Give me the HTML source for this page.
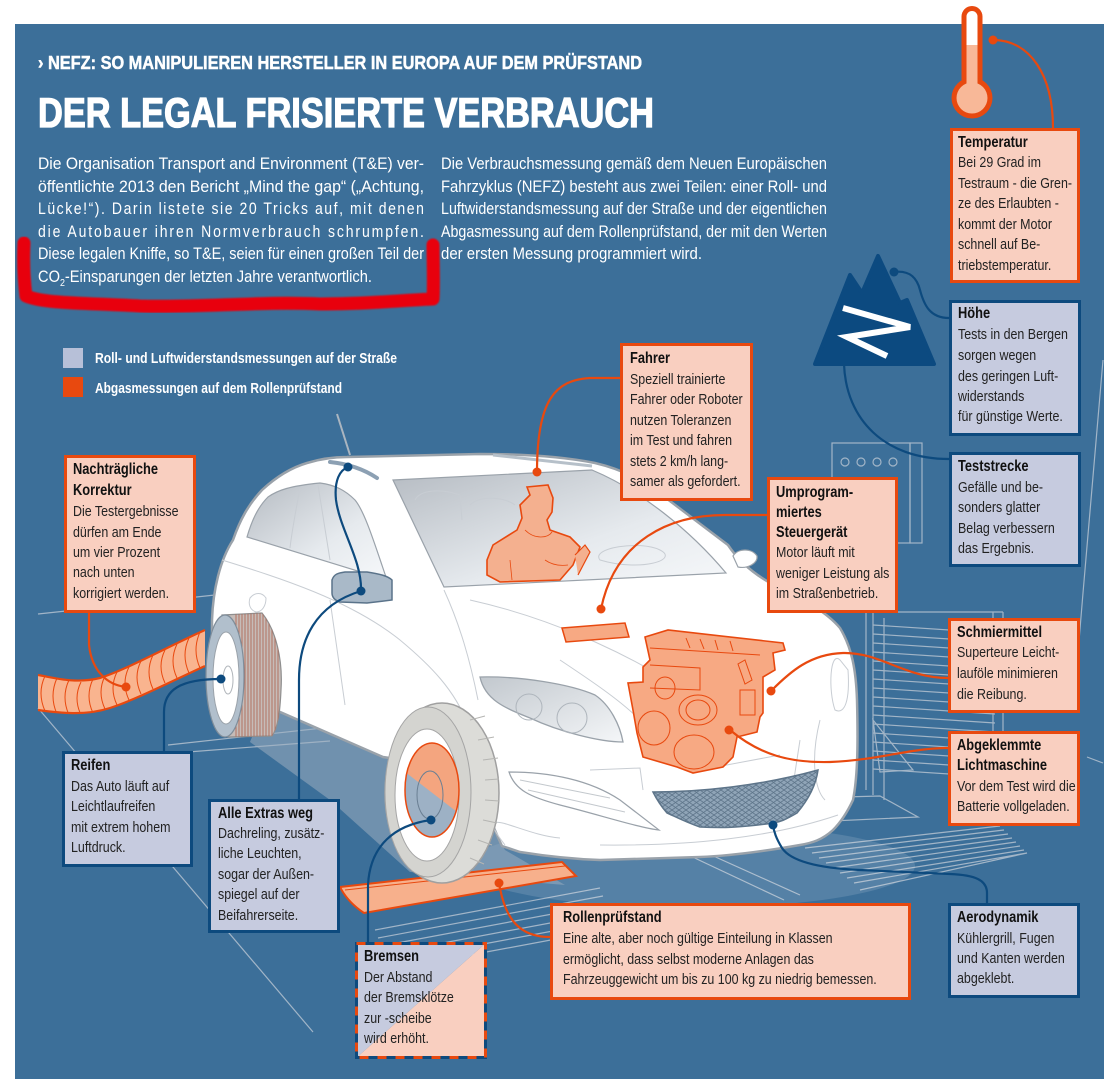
<!DOCTYPE html>
<html><head><meta charset="utf-8">
<style>
html,body{margin:0;padding:0;background:#fff;}
svg{display:block;}
text{font-family:"Liberation Sans",sans-serif;}
.t{font-weight:bold;font-size:15.5px;fill:#111;}
.b{font-size:15px;fill:#222;}
.p{font-size:16.5px;fill:#fff;}
.gl{stroke:#b4c2d0;stroke-width:1.2;fill:none;opacity:.85}
.cl{stroke:#c8cdd3;stroke-width:1;fill:none}
.oc{stroke:#e8490f;stroke-width:2.2;fill:none}
.bc{stroke:#0d4a7e;stroke-width:2.2;fill:none}
</style></head><body>
<svg width="1117" height="1082" viewBox="0 0 1117 1082" xmlns="http://www.w3.org/2000/svg">
<defs>
 <linearGradient id="win" x1="0" y1="0" x2="1" y2="1">
  <stop offset="0" stop-color="#b5bbc2"/><stop offset="0.6" stop-color="#e6eaee"/><stop offset="1" stop-color="#f6f8fa"/>
 </linearGradient>
 <linearGradient id="hl" x1="0" y1="0" x2="1" y2="1">
  <stop offset="0" stop-color="#c2c8ce"/><stop offset="1" stop-color="#f4f6f8"/>
 </linearGradient>
 <pattern id="mesh" width="7" height="5" patternUnits="userSpaceOnUse">
  <path d="M0,0 L7,5 M7,0 L0,5" stroke="#5d7489" stroke-width="0.8"/>
 </pattern>
 <clipPath id="tread"><path d="M222,615 L262,613 C276,630 283,660 281,690 C280,712 278,728 272,736 L228,737 Z"/></clipPath>
 <clipPath id="disc"><ellipse cx="432" cy="790" rx="27" ry="47"/></clipPath>
 <clipPath id="hose"><path d="M38,675 C55,678 75,684 100,678 C130,668 165,648 205,630 L205,666 C170,682 135,700 110,708 C85,716 60,713 38,710 Z"/></clipPath>
 <filter id="blur"><feGaussianBlur stdDeviation="0.9"/></filter>
</defs>

<!-- background panel -->
<rect x="15" y="24" width="1089" height="1055" fill="#3c6f99"/>

<!-- ground / background lines -->
<g class="gl">
 <path d="M38,614 L215,595"/>
 <path d="M38,708 L313,1032"/>
 <path d="M168,745 L323,728 M175,753 L330,741"/>
 <path d="M375,930 L600,888 M378,938 L603,896 M381,946 L606,904 M384,954 L609,912 M387,962 L612,920 M390,970 L615,928"/>
 <path d="M684,853 L784,900 M700,850 L800,895"/>
 <path d="M807,798 L880,796 L918,817 L832,821 Z"/>
 <path d="M805,848 L1000,826 M812,853 L1004,830 M819,858 L1008,834 M826,863 L1012,838 M833,868 L1016,842 M840,873 L1020,846 M847,878 L1024,850 M854,883 L1027,853 M860,890 L1027,853"/>
 <path d="M866,612 L866,790 M873,612 L873,795 M884,618 L884,800 M993,612 L993,760 M1003,612 L1003,765 M866,612 L1003,612"/>
 <path d="M873,625 L995,633 M873,634 L995,642 M873,643 L995,651 M873,652 L995,660 M873,661 L995,669 M873,670 L995,678 M873,679 L995,687 M873,688 L995,696 M873,697 L995,705 M873,706 L995,714 M873,715 L995,723 M873,724 L995,732 M873,733 L995,741 M873,742 L995,750 M873,751 L995,759 M873,760 L995,768 M873,769 L995,777"/>
 <path d="M873,720 L913,770 L880,772 Z"/>
 <path d="M1103,360 L1083,593 L1073,713 M1087,757 L1103,763"/>
 <rect x="832" y="443" width="78" height="100"/>
 <rect x="910" y="443" width="12" height="100"/>
 <circle cx="845" cy="462" r="4"/><circle cx="861" cy="462" r="4"/><circle cx="877" cy="462" r="4"/><circle cx="893" cy="462" r="4"/>
</g>

<!-- shadows -->
<ellipse cx="690" cy="866" rx="225" ry="42" fill="#fff" opacity="0.13"/>
<path d="M265,705 L470,790 L505,850 L565,885 L410,872 L330,800 L250,742 Z" fill="#9aadbf" opacity="0.55"/>

<!-- hose -->
<path d="M38,675 C55,678 75,684 100,678 C130,668 165,648 205,630 L205,666 C170,682 135,700 110,708 C85,716 60,713 38,710 Z" fill="#f9b48f"/>
<g clip-path="url(#hose)" stroke="#e8490f" stroke-width="1" fill="none">
 <path d="M45,676 Q37,693 45,711 M57,678 Q49,696 57,714 M69,680 Q61,697 69,715 M81,682 Q73,698 81,715 M93,679 Q85,696 93,713 M105,676 Q97,692 105,709 M117,672 Q109,688 117,705 M129,667 Q121,683 129,700 M141,661 Q133,677 141,694 M153,655 Q145,672 153,689 M165,650 Q157,666 165,683 M177,644 Q169,661 177,678 M189,638 Q181,655 189,673 M200,632 Q192,650 200,668"/>
</g>
<path d="M38,675 C55,678 75,684 100,678 C130,668 165,648 205,630 M205,666 C170,682 135,700 110,708 C85,716 60,713 38,710" stroke="#e8490f" stroke-width="2.2" fill="none"/>

<!-- car body -->
<path d="M212,620 C213,590 220,560 233,540 C240,520 248,505 262,490 C275,478 290,468 307,463 C320,459 333,457 347,457 L480,454 C530,454 565,457 595,463 C625,470 645,482 662,495 L728,545 C738,560 752,573 772,584 C800,598 825,610 840,628 C852,648 856,670 857,700 C858,740 858,775 853,800 C846,815 838,825 833,830 C822,840 812,843 800,845 C760,852 730,856 700,857 L600,860 C570,859 545,856 520,852 L502,846 C492,825 482,798 470,770 L383,757 L280,712 L212,700 Z" fill="#fff" stroke="#9aa2aa" stroke-width="2.5"/>
<!-- windows -->
<path d="M247,537 C252,520 258,507 268,497 C278,490 290,486 320,483 C335,485 345,490 355,500 C365,512 375,545 387,580 Z" fill="url(#win)" stroke="#9aa2aa" stroke-width="1.2"/>
<path d="M393,480 L592,470 C640,490 690,530 726,573 C640,578 540,582 444,587 Z" fill="url(#win)" stroke="#9aa2aa" stroke-width="1.2"/>
<!-- interior / body lines -->
<g class="cl">
 <path d="M318,485 L330,560 M300,488 C296,510 292,530 290,548"/>
 <path d="M415,500 C420,490 440,488 460,495 L462,520 M470,505 C480,495 505,497 515,505"/>
 <path d="M600,560 C590,548 640,540 660,550 C680,560 640,572 600,560 Z"/>
 <path d="M222,560 C280,578 350,600 400,640 C430,665 455,690 468,725"/>
 <path d="M444,590 C460,625 470,660 478,700"/>
 <path d="M330,600 L345,705"/>
 <path d="M250,598 C255,592 262,592 266,598 C266,606 262,612 256,612 C250,610 248,604 250,598 Z"/>
 <path d="M470,600 C560,620 640,660 700,700 M560,660 C590,680 620,700 640,720"/>
 <path d="M600,845 C690,846 770,838 838,815 M505,845 C470,800 520,835 560,838"/>
 <path d="M840,660 C830,650 828,690 835,710 C845,715 850,700 848,670 Z"/>
 <path d="M820,720 C810,760 815,790 825,800 M800,740 L790,805"/>
 <path d="M590,770 L640,768 L643,790 M700,770 L780,755"/>
</g>
<!-- right mirror -->
<path d="M733,556 C738,548 752,548 757,556 C758,563 748,569 738,567 Z" fill="#fff" stroke="#9aa2aa" stroke-width="1.2"/>
<!-- roof rails, antenna -->
<path d="M493,455 L592,466" stroke="#b6c0c9" stroke-width="3" fill="none"/>
<path d="M330,462 C350,464 365,470 377,478" stroke="#8ca0b3" stroke-width="4" fill="none" stroke-linecap="round"/>
<path d="M337,414 L350,455" stroke="#aab5c0" stroke-width="2"/>
<!-- left mirror -->
<path d="M332,580 C334,574 338,573 345,572 L367,572 C380,574 388,576 392,580 L392,600 L367,603 L340,602 C334,600 332,597 332,593 Z" fill="#a9b9c8" stroke="#5a738a" stroke-width="1.5"/>
<!-- headlight -->
<path d="M480,677 C520,676 570,684 595,695 C610,705 620,725 623,742 C600,742 560,732 530,718 C505,708 485,700 480,677 Z" fill="url(#hl)" stroke="#9aa2aa" stroke-width="1.3"/>
<circle cx="529" cy="707" r="13" fill="none" stroke="#aeb5bc"/>
<circle cx="572" cy="718" r="15" fill="none" stroke="#aeb5bc"/>
<!-- DRL -->
<path d="M509,772 C550,772 590,780 620,800 L659,830 C640,828 600,815 560,805 C530,797 515,790 509,772 Z" fill="#fff" stroke="#9aa2aa" stroke-width="1.2"/>
<path d="M520,780 L610,798 M528,790 L625,812" stroke="#c3c8cd" stroke-width="1"/>
<!-- grille -->
<path d="M653,792 C700,792 760,786 818,770 C816,785 808,800 797,813 C785,820 780,822 773,823 C740,828 720,828 700,827 C685,822 672,815 667,813 C660,805 656,798 653,792 Z" fill="#8fa4b7"/>
<path d="M653,792 C700,792 760,786 818,770 C816,785 808,800 797,813 C785,820 780,822 773,823 C740,828 720,828 700,827 C685,822 672,815 667,813 C660,805 656,798 653,792 Z" fill="url(#mesh)" stroke="#5d7489" stroke-width="1.5"/>

<!-- rear wheel -->
<path d="M222,615 L262,613 C276,630 283,660 281,690 C280,712 278,728 272,736 L228,737 Z" fill="#c6bcb8" stroke="#8f8f8f" stroke-width="1.2"/>
<g clip-path="url(#tread)" stroke="#b06a58" stroke-width="0.9">
 <path d="M236,610 V740 M239,610 V740 M242,610 V740 M245,610 V740 M248,610 V740 M251,610 V740 M254,610 V740 M257,610 V740 M260,610 V740 M263,610 V740 M266,610 V740 M269,610 V740 M272,610 V740 M275,610 V740 M278,610 V740"/>
</g>
<ellipse cx="225" cy="676" rx="19" ry="61" fill="#b1bfcc" stroke="#7f8d9a" stroke-width="1.2"/>
<ellipse cx="226" cy="678" rx="13" ry="46" fill="#fff" stroke="#9aa2aa"/>
<ellipse cx="228" cy="680" rx="5" ry="14" fill="none" stroke="#b0b5ba"/>

<!-- roller -->
<path d="M340,887 L562,862 L576,876 L364,913 C352,905 345,897 340,887 Z" fill="#f7b08c" stroke="#e8490f" stroke-width="2"/>
<path d="M345,890 L565,866" stroke="#e8490f" stroke-width="1"/>

<!-- front wheel -->
<ellipse cx="442" cy="793" rx="57" ry="90" fill="#dcdcd8" stroke="#a0a0a0" stroke-width="1.5"/>
<g stroke="#b5b5b2" stroke-width="1" fill="none">
 <path d="M470,720 L485,716 M478,740 L494,737 M483,760 L498,758 M485,780 L499,779 M485,800 L499,801 M483,820 L497,823 M478,840 L492,845 M470,858 L484,864"/>
</g>
<ellipse cx="428" cy="792" rx="43" ry="85" fill="#d4d4d0" stroke="#a5a5a5"/>
<ellipse cx="427" cy="795" rx="32" ry="66" fill="#fff" stroke="#a5a5a5"/>
<g clip-path="url(#disc)">
 <rect x="400" y="740" width="70" height="100" fill="#9db1c5"/>
 <path d="M400,740 L470,740 L470,822 L400,768 Z" fill="#f4a57f"/>
</g>
<ellipse cx="432" cy="790" rx="27" ry="47" fill="none" stroke="#e8490f" stroke-width="1.5"/>
<ellipse cx="430" cy="795" rx="13" ry="24" fill="none" stroke="#6a7f93" stroke-width="1"/>

<!-- engine -->
<path d="M645,637 L668,630 L783,643 L785,650 L773,653 L775,670 L763,677 L763,713 L760,717 L757,732 L737,737 L733,757 L723,767 L693,773 L677,767 L643,757 L637,733 L633,710 L628,683 L643,682 L643,667 L650,660 Z" fill="#f7a983" stroke="#e8490f" stroke-width="1.6"/>
<g stroke="#e8490f" stroke-width="1" fill="none">
 <path d="M650,648 L760,655 M686,638 L690,648 M700,639 L704,649 M715,640 L718,650 M730,641 L733,651 M650,665 L700,668 L700,690 L650,688"/>
 <ellipse cx="698" cy="710" rx="19" ry="15"/><ellipse cx="698" cy="710" rx="12" ry="10"/>
 <ellipse cx="654" cy="728" rx="16" ry="17"/><ellipse cx="694" cy="752" rx="20" ry="17"/>
 <ellipse cx="665" cy="688" rx="10" ry="11"/>
 <path d="M745,660 L752,680 L745,684 L738,664 Z M740,690 L755,690 L755,715 L740,715 Z"/>
</g>
<!-- ECU -->
<path d="M562,628 L625,623 L629,637 L566,642 Z" fill="#f7a983" stroke="#e8490f" stroke-width="1.5"/>

<!-- driver -->
<path d="M527,487 L548,485 L553,498 L552,512 L547,520 L550,530 L570,537 L580,547 L573,565 L560,580 L500,582 L487,575 L487,560 L493,545 L517,530 L522,518 L520,505 L530,495 Z" fill="#f4b08f" stroke="#e8490f" stroke-width="1.6"/>
<path d="M525,530 C535,540 548,538 552,532 M510,560 L512,580 M545,560 C552,565 560,566 568,565" stroke="#e8490f" stroke-width="0.8" fill="none"/>
<path d="M575,555 L585,545 L590,552 L578,575" fill="#f4b08f" stroke="#e8490f" stroke-width="1.2"/>

<!-- mountain -->
<polygon points="815,364 850,275 862,293 878,256 900,303 907,300 934,364" fill="#0c4a80" stroke="#0c4a80" stroke-width="4" stroke-linejoin="round"/>
<polyline points="843,308 910,327 847,337 887,356" fill="none" stroke="#fff" stroke-width="6"/>

<!-- thermometer -->
<rect x="961.5" y="6" width="21" height="88" rx="10.5" fill="#e8490f"/>
<circle cx="972" cy="98" r="20.5" fill="#e8490f"/>
<rect x="966.5" y="11" width="11" height="80" rx="5.5" fill="#fff"/>
<rect x="966.5" y="45" width="11" height="50" fill="#f8b898"/>
<circle cx="972" cy="98" r="15.5" fill="#f8b898"/>

<!-- connectors -->
<path class="oc" d="M993,40 C1030,40 1053,75 1053,128"/>
<path class="oc" d="M620,378 L590,378 C555,380 537,400 537,472"/>
<path class="oc" d="M767,515 L725,515 C670,515 615,540 601,609"/>
<path class="oc" d="M89,613 L89,645 C92,672 108,685 126,687"/>
<path class="oc" d="M948,678 C905,678 880,652 843,653 C810,654 790,672 772,690"/>
<path class="oc" d="M948,748 C910,748 880,760 830,762 C790,763 760,755 730,730"/>
<path class="oc" d="M550,937 C520,937 505,920 499,883"/>
<path class="bc" d="M949,318 C930,318 924,305 920,290 C917,278 910,270 894,272"/>
<path class="bc" d="M844,364 C846,420 885,459 949,459"/>
<path class="bc" d="M164,751 L164,712 C164,690 180,679 221,679"/>
<path class="bc" d="M299,799 L299,680 C299,640 315,605 361,591"/>
<path class="bc" d="M361,591 C362,560 340,530 336,500 C334,480 340,470 348,467"/>
<path class="bc" d="M368,942 L368,885 C370,845 395,825 431,820"/>
<path class="bc" d="M987,903 L987,893 C987,880 975,875 950,874 L860,870 C815,868 790,860 782,848 C776,838 774,832 773,825"/>
<!-- dots -->
<g fill="#e8490f">
 <circle cx="993" cy="40" r="4.5"/><circle cx="537" cy="472" r="4.5"/><circle cx="601" cy="609" r="4.5"/>
 <circle cx="126" cy="687" r="4.5"/><circle cx="771" cy="691" r="4.5"/><circle cx="729" cy="730" r="4.5"/><circle cx="499" cy="883" r="4.5"/>
</g>
<g fill="#0d4a7e">
 <circle cx="894" cy="272" r="4.5"/><circle cx="221" cy="679" r="4.5"/><circle cx="361" cy="591" r="4.5"/>
 <circle cx="348" cy="467" r="4.5"/><circle cx="431" cy="820" r="4.5"/><circle cx="773" cy="825" r="4.5"/>
</g>

<!-- boxes -->
<g stroke-width="3">
 <rect x="951.5" y="129.5" width="127" height="152" fill="#f9cfc0" stroke="#e8490f"/>
 <rect x="950.5" y="301.5" width="129" height="133" fill="#c6cbdf" stroke="#0d4a7e"/>
 <rect x="950.5" y="453.5" width="129" height="112" fill="#c6cbdf" stroke="#0d4a7e"/>
 <rect x="949.5" y="619.5" width="129" height="92" fill="#f9cfc0" stroke="#e8490f"/>
 <rect x="949.5" y="732.5" width="129" height="92" fill="#f9cfc0" stroke="#e8490f"/>
 <rect x="949.5" y="904.5" width="129" height="92" fill="#c6cbdf" stroke="#0d4a7e"/>
 <rect x="551.5" y="904.5" width="358" height="94" fill="#f9cfc0" stroke="#e8490f"/>
 <rect x="209.5" y="800.5" width="129" height="131" fill="#c6cbdf" stroke="#0d4a7e"/>
 <rect x="63.5" y="752.5" width="128" height="113" fill="#c6cbdf" stroke="#0d4a7e"/>
 <rect x="65.5" y="456.5" width="129" height="155" fill="#f9cfc0" stroke="#e8490f"/>
 <rect x="621.5" y="344.5" width="130" height="155" fill="#f9cfc0" stroke="#e8490f"/>
 <rect x="768.5" y="478.5" width="128" height="133" fill="#f9cfc0" stroke="#e8490f"/>
</g>
<!-- Bremsen box -->
<polygon points="355,942 487,942 355,1059" fill="#c6cbdf"/>
<polygon points="487,942 487,1059 355,1059" fill="#f9cfc0"/>
<rect x="356.5" y="943.5" width="129" height="114" fill="none" stroke="#0d4a7e" stroke-width="3"/>
<rect x="356.5" y="943.5" width="129" height="114" fill="none" stroke="#e8490f" stroke-width="3" stroke-dasharray="9 9"/>

<!-- box text -->
<g transform="translate(958,0) scale(0.83,1)">
 <text class="t" x="0" y="147">Temperatur</text>
 <text class="b" x="0" y="167">Bei 29 Grad im</text>
 <text class="b" x="0" y="188">Testraum - die Gren-</text>
 <text class="b" x="0" y="208">ze des Erlaubten -</text>
 <text class="b" x="0" y="229">kommt der Motor</text>
 <text class="b" x="0" y="249">schnell auf Be-</text>
 <text class="b" x="0" y="270">triebstemperatur.</text>
</g>
<g transform="translate(958,0) scale(0.83,1)">
 <text class="t" x="0" y="318">Höhe</text>
 <text class="b" x="0" y="339">Tests in den Bergen</text>
 <text class="b" x="0" y="360">sorgen wegen</text>
 <text class="b" x="0" y="381">des geringen Luft-</text>
 <text class="b" x="0" y="401">widerstands</text>
 <text class="b" x="0" y="421">für günstige Werte.</text>
</g>
<g transform="translate(958,0) scale(0.83,1)">
 <text class="t" x="0" y="471">Teststrecke</text>
 <text class="b" x="0" y="492">Gefälle und be-</text>
 <text class="b" x="0" y="512">sonders glatter</text>
 <text class="b" x="0" y="533">Belag verbessern</text>
 <text class="b" x="0" y="553">das Ergebnis.</text>
</g>
<g transform="translate(957,0) scale(0.83,1)">
 <text class="t" x="0" y="637">Schmiermittel</text>
 <text class="b" x="0" y="657">Superteure Leicht-</text>
 <text class="b" x="0" y="678">lauföle minimieren</text>
 <text class="b" x="0" y="699">die Reibung.</text>
</g>
<g transform="translate(957,0) scale(0.83,1)">
 <text class="t" x="0" y="750">Abgeklemmte</text>
 <text class="t" x="0" y="770">Lichtmaschine</text>
 <text class="b" x="0" y="791">Vor dem Test wird die</text>
 <text class="b" x="0" y="811">Batterie vollgeladen.</text>
</g>
<g transform="translate(957,0) scale(0.83,1)">
 <text class="t" x="0" y="922">Aerodynamik</text>
 <text class="b" x="0" y="943">Kühlergrill, Fugen</text>
 <text class="b" x="0" y="963">und Kanten werden</text>
 <text class="b" x="0" y="983">abgeklebt.</text>
</g>
<g transform="translate(563,0) scale(0.83,1)">
 <text class="t" x="0" y="922">Rollenprüfstand</text>
 <text class="b" x="0" y="943">Eine alte, aber noch gültige Einteilung in Klassen</text>
 <text class="b" x="0" y="964">ermöglicht, dass selbst moderne Anlagen das</text>
 <text class="b" x="0" y="984">Fahrzeuggewicht um bis zu 100 kg zu niedrig bemessen.</text>
</g>
<g transform="translate(364,0) scale(0.83,1)">
 <text class="t" x="0" y="961">Bremsen</text>
 <text class="b" x="0" y="982">Der Abstand</text>
 <text class="b" x="0" y="1002">der Bremsklötze</text>
 <text class="b" x="0" y="1023">zur -scheibe</text>
 <text class="b" x="0" y="1043">wird erhöht.</text>
</g>
<g transform="translate(218,0) scale(0.83,1)">
 <text class="t" x="0" y="818">Alle Extras weg</text>
 <text class="b" x="0" y="838">Dachreling, zusätz-</text>
 <text class="b" x="0" y="858">liche Leuchten,</text>
 <text class="b" x="0" y="879">sogar der Außen-</text>
 <text class="b" x="0" y="899">spiegel auf der</text>
 <text class="b" x="0" y="920">Beifahrerseite.</text>
</g>
<g transform="translate(71,0) scale(0.83,1)">
 <text class="t" x="0" y="770">Reifen</text>
 <text class="b" x="0" y="791">Das Auto läuft auf</text>
 <text class="b" x="0" y="811">Leichtlaufreifen</text>
 <text class="b" x="0" y="832">mit extrem hohem</text>
 <text class="b" x="0" y="852">Luftdruck.</text>
</g>
<g transform="translate(73,0) scale(0.83,1)">
 <text class="t" x="0" y="474">Nachträgliche</text>
 <text class="t" x="0" y="495">Korrektur</text>
 <text class="b" x="0" y="516">Die Testergebnisse</text>
 <text class="b" x="0" y="537">dürfen am Ende</text>
 <text class="b" x="0" y="557">um vier Prozent</text>
 <text class="b" x="0" y="577">nach unten</text>
 <text class="b" x="0" y="598">korrigiert werden.</text>
</g>
<g transform="translate(630,0) scale(0.83,1)">
 <text class="t" x="0" y="363">Fahrer</text>
 <text class="b" x="0" y="384">Speziell trainierte</text>
 <text class="b" x="0" y="404">Fahrer oder Roboter</text>
 <text class="b" x="0" y="425">nutzen Toleranzen</text>
 <text class="b" x="0" y="445">im Test und fahren</text>
 <text class="b" x="0" y="466">stets 2 km/h lang-</text>
 <text class="b" x="0" y="486">samer als gefordert.</text>
</g>
<g transform="translate(776,0) scale(0.83,1)">
 <text class="t" x="0" y="497">Umprogram-</text>
 <text class="t" x="0" y="517">miertes</text>
 <text class="t" x="0" y="537">Steuergerät</text>
 <text class="b" x="0" y="557">Motor läuft mit</text>
 <text class="b" x="0" y="578">weniger Leistung als</text>
 <text class="b" x="0" y="598">im Straßenbetrieb.</text>
</g>

<!-- header -->
<text x="38" y="69" font-size="18.5" font-weight="bold" fill="#fff" stroke="#fff" stroke-width="0.5" textLength="604" lengthAdjust="spacingAndGlyphs">› NEFZ: SO MANIPULIEREN HERSTELLER IN EUROPA AUF DEM PRÜFSTAND</text>
<text x="38" y="127" font-size="42" font-weight="bold" fill="#fff" stroke="#fff" stroke-width="1.3" textLength="616" lengthAdjust="spacingAndGlyphs">DER LEGAL FRISIERTE VERBRAUCH</text>

<!-- paragraphs -->
<text class="p" x="38" y="169" textLength="386" lengthAdjust="spacingAndGlyphs">Die Organisation Transport and Environment (T&amp;E) ver-</text>
<text class="p" x="38" y="192" textLength="386" lengthAdjust="spacingAndGlyphs">öffentlichte 2013 den Bericht „Mind the gap“ („Achtung,</text>
<g transform="translate(38,0) scale(0.85,1)">
 <text class="p" x="0" y="214" textLength="454" lengthAdjust="spacing">Lücke!“). Darin listete sie 20 Tricks auf, mit denen</text>
 <text class="p" x="0" y="237" textLength="454" lengthAdjust="spacing">die Autobauer ihren Normverbrauch schrumpfen.</text>
</g>
<text class="p" x="38" y="259" textLength="386" lengthAdjust="spacingAndGlyphs">Diese legalen Kniffe, so T&amp;E, seien für einen großen Teil der</text>
<text class="p" x="38" y="282" textLength="334" lengthAdjust="spacingAndGlyphs">CO<tspan font-size="10" dy="4">2</tspan><tspan dy="-4">-Einsparungen der letzten Jahre verantwortlich.</tspan></text>

<text class="p" x="441" y="169" textLength="386" lengthAdjust="spacingAndGlyphs">Die Verbrauchsmessung gemäß dem Neuen Europäischen</text>
<text class="p" x="441" y="192" textLength="386" lengthAdjust="spacingAndGlyphs">Fahrzyklus (NEFZ) besteht aus zwei Teilen: einer Roll- und</text>
<text class="p" x="441" y="214" textLength="386" lengthAdjust="spacingAndGlyphs">Luftwiderstandsmessung auf der Straße und der eigentlichen</text>
<text class="p" x="441" y="237" textLength="386" lengthAdjust="spacingAndGlyphs">Abgasmessung auf dem Rollenprüfstand, der mit den Werten</text>
<text class="p" x="441" y="259" textLength="261" lengthAdjust="spacingAndGlyphs">der ersten Messung programmiert wird.</text>

<!-- legend -->
<rect x="63" y="348" width="20" height="20" fill="#b7c0d8"/>
<rect x="63" y="377" width="20" height="20" fill="#e8490f"/>
<text x="95" y="363" font-size="15" font-weight="bold" fill="#fff" textLength="302" lengthAdjust="spacingAndGlyphs">Roll- und Luftwiderstandsmessungen auf der Straße</text>
<text x="95" y="393" font-size="15" font-weight="bold" fill="#fff" textLength="247" lengthAdjust="spacingAndGlyphs">Abgasmessungen auf dem Rollenprüfstand</text>

<!-- red marker -->
<path d="M24,243 C23,262 24,280 26,296 C45,304 90,303 140,306 C200,308 260,301 320,304 C370,304 405,300 433,299 C434,282 433,262 433,245" fill="none" stroke="#e8000c" stroke-width="13" stroke-linecap="round" stroke-linejoin="round" filter="url(#blur)"/>
</svg>
</body></html>
